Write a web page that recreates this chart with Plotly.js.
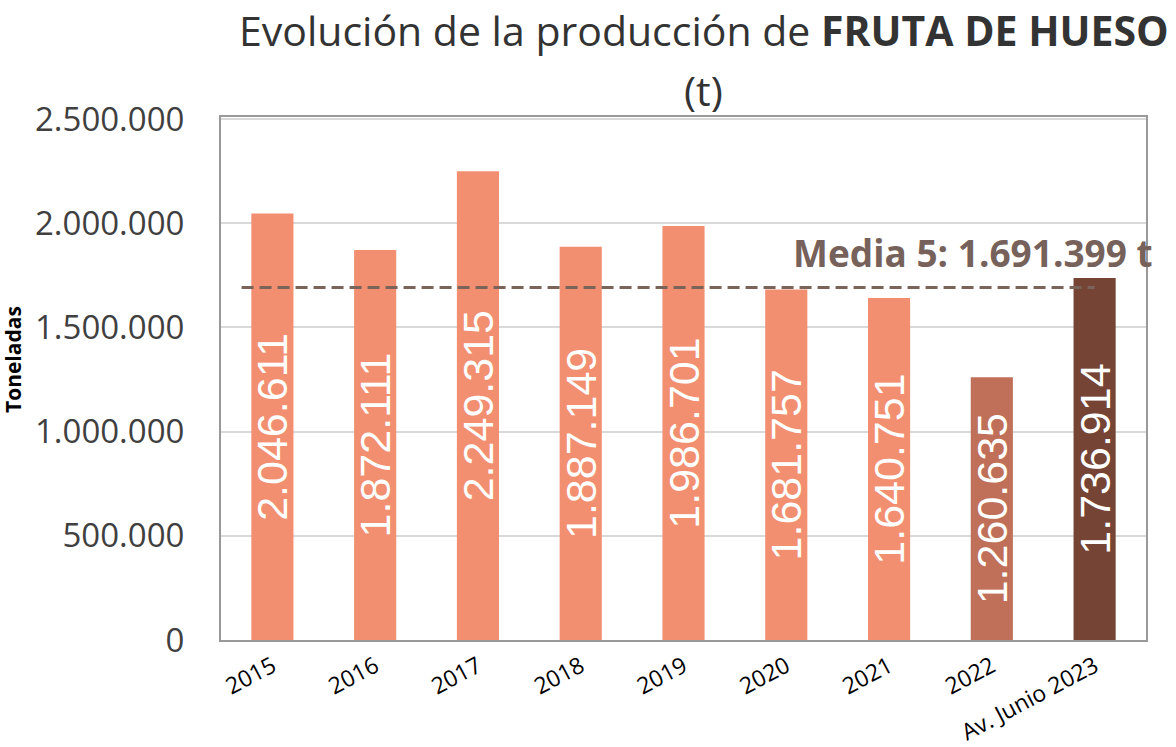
<!DOCTYPE html>
<html>
<head>
<meta charset="utf-8">
<script src="https://cdn.plot.ly/plotly-3.0.1.min.js"></script>
<style>html,body{margin:0;padding:0;background:#fff;}#chart{width:1176px;height:747px;}</style>
</head>
<body>
<div id="chart"></div>
<script>
const categories = ["2015","2016","2017","2018","2019","2020","2021","2022","Av. Junio 2023"];
const production = [2046611, 1872111, 2249315, 1887149, 1986701, 1681757, 1640751, 1260635, 1736914];
const barColors = ["#F28F71","#F28F71","#F28F71","#F28F71","#F28F71","#F28F71","#F28F71","#C07058","#764434"];
const mediaValue = 1691399;
const mediaLabel = "Media 5: 1.691.399 t";
const yTicks = [0, 500000, 1000000, 1500000, 2000000, 2500000];
const titleLine1 = "Evolución de la producción de <b>FRUTA DE HUESO</b>";
const titleLine2 = "(t)";
const yTitle = "Toneladas";

const bars = {
  type: "bar",
  x: categories,
  y: production,
  marker: {color: barColors},
  texttemplate: "%{y:,d}",
  textposition: "inside",
  insidetextanchor: "middle",
  textangle: -90,
  constraintext: "none",
  textfont: {family: "Liberation Sans, Arial, sans-serif", size: 43, color: "#ffffff"},
  hoverinfo: "x+y",
  showlegend: false
};

const layout = {
  width: 1176, height: 747,
  margin: {l: 221, r: 30, t: 117, b: 107},
  paper_bgcolor: "#ffffff",
  plot_bgcolor: "#ffffff",
  separators: ",.",
  bargap: 0.59,
  title: {
    text: titleLine1,
    font: {family: "Open Sans, sans-serif", size: 41, color: "#333333"},
    x: 0.522, xref: "paper", xanchor: "center",
    y: 0.958, yref: "container", yanchor: "middle"
  },
  xaxis: {
    type: "category",
    tickangle: -28,
    tickfont: {family: "Open Sans, sans-serif", size: 23, color: "#000000"},
    showline: true, mirror: true, linecolor: "#999999", linewidth: 2,
    ticks: "", showgrid: false,
    ticklabelstandoff: 2
  },
  yaxis: {
    range: [0, 2510000],
    tickvals: yTicks,
    tickformat: ",d",
    tickfont: {family: "Open Sans, sans-serif", size: 33, color: "#404040"},
    showline: true, mirror: true, linecolor: "#999999", linewidth: 2,
    gridcolor: "#d9d9d9", gridwidth: 2,
    zeroline: false, ticks: "",
    ticklabelstandoff: 28
  },
  shapes: [{
    type: "line", xref: "x", yref: "y",
    x0: -0.3, x1: 8.0, y0: mediaValue, y1: mediaValue,
    line: {color: "#7A645A", width: 3, dash: "12px,6px"}
  }],
  annotations: [{
    text: titleLine2,
    xref: "paper", yref: "paper",
    x: 0.522, y: 1.0 + (117 - 90) / 523,
    xanchor: "center", yanchor: "middle",
    showarrow: false,
    font: {family: "Open Sans, sans-serif", size: 41, color: "#333333"}
  }, {
    text: "<b>" + yTitle + "</b>",
    xref: "paper", yref: "paper",
    x: (13 - 221) / 925, y: (640 - 360) / 523,
    xanchor: "center", yanchor: "middle",
    textangle: -90,
    showarrow: false,
    font: {family: "Open Sans, sans-serif", size: 21, color: "#000000"}
  }, {
    text: "<b>" + mediaLabel + "</b>",
    xref: "paper", yref: "y",
    x: 1.0097, y: 1860000,
    xanchor: "right", yanchor: "middle",
    showarrow: false,
    font: {family: "Open Sans, sans-serif", size: 37, color: "#76625A"}
  }]
};

Plotly.newPlot("chart", [bars], layout, {displayModeBar: false, responsive: false});
</script>
</body>
</html>
